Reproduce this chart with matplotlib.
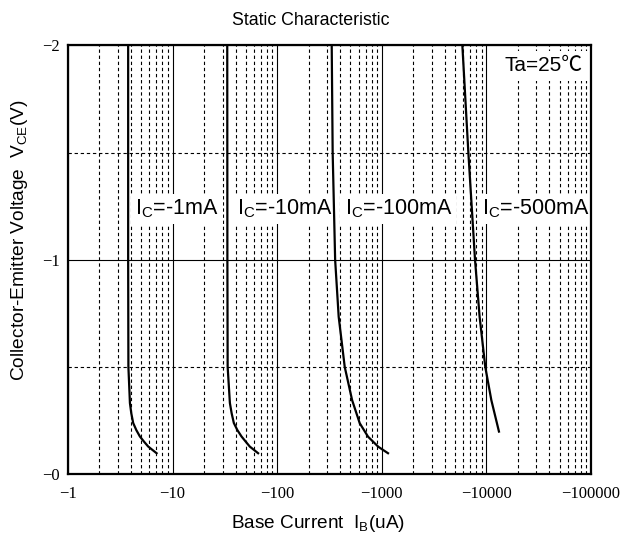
import numpy as np
import matplotlib
matplotlib.use("Agg")
import matplotlib.pyplot as plt
from matplotlib.ticker import FixedLocator, FuncFormatter, NullFormatter

plt.rcParams['font.family'] = ['Liberation Sans', 'DejaVu Sans']

# base current (uA) vs collector-emitter voltage (V)
ib_1ma = [-3.76, -3.76, -3.76, -3.78, -3.91, -4.03, -4.2, -4.5, -4.87, -5.33, -5.85, -7.03]
vce_1ma = [-2.0, -1.5, -1.0, -0.5, -0.331, -0.283, -0.238, -0.205, -0.175, -0.151, -0.128, -0.097]

ib_10ma = [-33.3, -33.4, -33.6, -35.3, -36.7, -38.5, -41.6, -45.6, -50.0, -54.7, -65.7]
vce_10ma = [-2.0, -1.0, -0.5, -0.331, -0.283, -0.238, -0.205, -0.175, -0.151, -0.128, -0.097]

ib_100ma = [-332, -339, -358, -387, -442, -520, -615, -739, -926, -1146]
vce_100ma = [-2.0, -1.5, -1.0, -0.734, -0.5, -0.345, -0.237, -0.174, -0.127, -0.097]

ib_500ma = [-5890, -6720, -7780, -8610, -9750, -11140, -13180]
vce_500ma = [-2.0, -1.5, -1.0, -0.734, -0.5, -0.345, -0.198]

curves = [(ib_1ma, vce_1ma), (ib_10ma, vce_10ma), (ib_100ma, vce_100ma), (ib_500ma, vce_500ma)]
curve_labels = ['-1mA', '-10mA', '-100mA', '-500mA']
label_ib = [-4.4, -41.0, -440, -9000]
label_vce = -1.21

x_ticks = [-1, -10, -100, -1000, -10000, -100000]
y_ticks = [0, -1, -2]

fig = plt.figure(figsize=(6.22, 5.39), dpi=100)
ax = fig.add_axes([0.1093, 0.1206, 0.8409, 0.795])

for ib, vce in curves:
    ax.plot(-np.array(ib), -np.array(vce), color='black', lw=1.6, zorder=3)

ax.set_xscale('log')
ax.set_xlim(1, 100000)
ax.set_ylim(0, 2)

ax.xaxis.set_major_locator(FixedLocator([-v for v in x_ticks]))
ax.xaxis.set_minor_locator(FixedLocator([m * 10 ** d for d in range(5) for m in range(2, 10)]))
ax.xaxis.set_major_formatter(FuncFormatter(lambda v, p: '\u2212%d' % round(v)))
ax.xaxis.set_minor_formatter(NullFormatter())
ax.yaxis.set_major_locator(FixedLocator([-v for v in y_ticks]))
ax.yaxis.set_minor_locator(FixedLocator([0.5, 1.5]))
ax.yaxis.set_major_formatter(FuncFormatter(lambda v, p: '\u2212%d' % round(v)))

ax.grid(which='major', color='black', lw=0.8, ls='-')
ax.grid(which='minor', color='black', lw=0.8, ls=(0, (3, 2.5)))
ax.set_axisbelow(True)

ax.tick_params(which='both', length=0)
ax.tick_params(axis='x', pad=9)
ax.tick_params(axis='y', pad=6)
for lab in ax.get_xticklabels() + ax.get_yticklabels():
    lab.set_family(['Liberation Serif', 'DejaVu Serif'])
    lab.set_fontsize(12)

for s in ax.spines.values():
    s.set_linewidth(1.6)

for x, name in zip(label_ib, curve_labels):
    ax.text(-x, -label_vce, r'$\mathregular{I_C}$=' + name, fontsize=15.5, va='baseline', ha='left',
            zorder=2, bbox=dict(facecolor='white', edgecolor='none', pad=3))

ax.text(0.983, 0.975, 'Ta=25\u2103', transform=ax.transAxes, fontsize=15, ha='right', va='top',
        family=['Liberation Sans', 'Noto Sans CJK SC', 'DejaVu Sans'],
        zorder=2, bbox=dict(facecolor='white', edgecolor='none', pad=4))

fig.text(0.5, 0.962, 'Static Characteristic', fontsize=12.8, ha='center', va='center')
ax.set_xlabel(r'Base Current  $\mathregular{I_B}$(uA)', fontsize=13.7)
ax.xaxis.set_label_coords(0.478, -0.092)
ax.set_ylabel(r'Collector-Emitter Voltage  $\mathregular{V_{CE}}$(V)', fontsize=13.8)
ax.yaxis.set_label_coords(-0.072, 0.545)

fig.savefig('out.png', dpi=100)
